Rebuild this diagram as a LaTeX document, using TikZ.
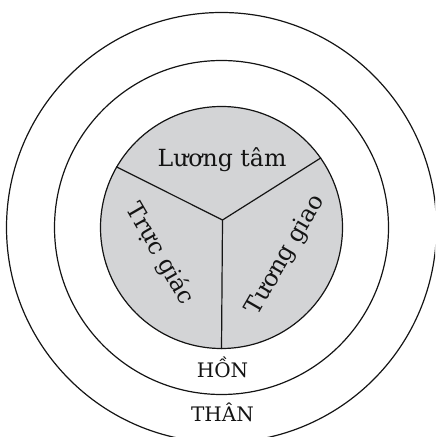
\documentclass[tikz,border=0pt]{standalone}
\usepackage{fontspec}
\setmainfont{DejaVu Serif}
\usepackage{xcolor}
\definecolor{soulGray}{RGB}{211,212,214}
\definecolor{inkBlack}{RGB}{20,20,20}

\begin{document}
\begin{tikzpicture}[x=0.5pt,y=-0.5pt,
  ring/.style={circle,draw=inkBlack,line width=0.6pt,inner sep=0pt},
  divider/.style={draw=inkBlack,line width=0.6pt},
  partLabel/.style={font=\fontsize{11.8}{13}\selectfont,text=inkBlack},
  layerLabel/.style={font=\fontsize{10}{11}\selectfont,text=inkBlack,anchor=base}]
\useasboundingbox (0,0) rectangle (435,437);
\clip (0,0) rectangle (435,437);
% three layers
\node[ring,minimum size=215pt] (than) at (221.5,227.5) {};
\node[ring,minimum size=167pt] (hon) at (221.5,227.5) {};
\node[ring,fill=soulGray,minimum size=121pt] (core) at (221.5,227.5) {};
% the three parts of the core
\coordinate (hub) at (222.5,220);
\draw[divider] (hub) -- (core.150.6);
\draw[divider] (hub) -- (core.35.4);
\draw[divider] (hub) -- (core.270);
% labels
\node[partLabel,anchor=base] (luongtam) at (222,167) {Lương tâm};
\node[partLabel,rotate=-60] (trucgiac) at (160,254) {Trực giác};
\node[partLabel,rotate=60] (tuonggiao) at (286,255) {Tương giao};
\node[layerLabel] (honlbl) at (222.5,377) {HỒN};
\node[layerLabel] (thanlbl) at (222.5,421.5) {THÂN};
\end{tikzpicture}
\end{document}
